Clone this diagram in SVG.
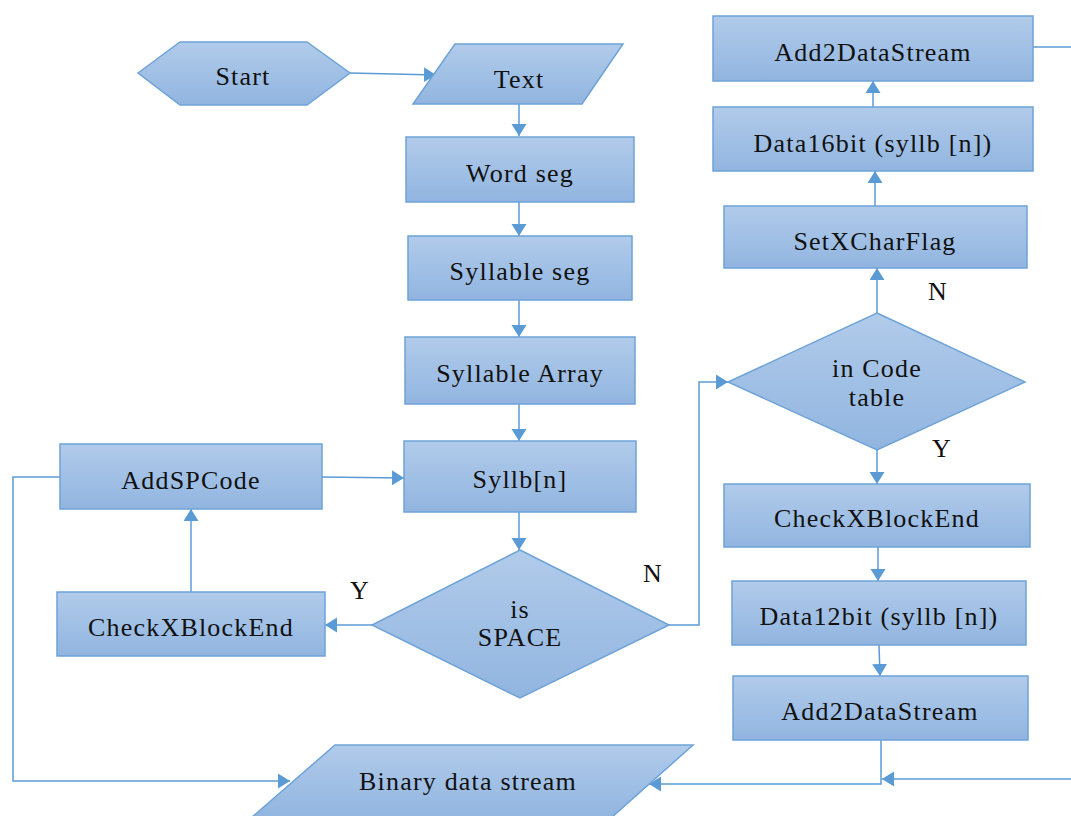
<svg xmlns="http://www.w3.org/2000/svg" width="1071" height="816" viewBox="0 0 1071 816">
<style>
.shape{fill:url(#g);stroke:#6ea3d8;stroke-width:1.5}
.t{font-family:"Liberation Serif","Times New Roman",serif;font-size:26px;letter-spacing:1.2px;fill:#111;text-anchor:middle}
.c{fill:none;stroke:#5b9bd5;stroke-width:1.5}
.a{marker-end:url(#ah)}
</style>
<defs>
<linearGradient id="g" x1="0" y1="0" x2="0" y2="1">
<stop offset="0" stop-color="#b1cbea"/>
<stop offset="1" stop-color="#91b5e0"/>
</linearGradient>
<marker id="ah" markerUnits="userSpaceOnUse" markerWidth="13" markerHeight="16" refX="12" refY="7.5" orient="auto">
<path d="M0,0 L12,7.5 L0,15 z" fill="#5b9bd5"/>
</marker>
</defs>
<rect width="1071" height="816" fill="#fff"/>
<g id="connectors">
<path class="c a" d="M350,73 L436,75"/>
<path class="c a" d="M519,104 L519,136"/>
<path class="c a" d="M519,202 L519,236"/>
<path class="c a" d="M519,300 L519,337"/>
<path class="c a" d="M519,404 L519,441"/>
<path class="c a" d="M519,512 L519,550"/>
<path class="c a" d="M372,625 L325,625"/>
<path class="c a" d="M191,592 L191,509"/>
<path class="c a" d="M322,477 L404,478"/>
<path class="c a" d="M60,477 L13,477 L13,781 L290,781"/>
<path class="c a" d="M669,625 L699,625 L699,382 L728,382"/>
<path class="c a" d="M877,313 L877,268"/>
<path class="c a" d="M875,206 L875,171"/>
<path class="c a" d="M873,107 L873,81"/>
<path class="c" d="M1033,47 L1071,47"/>
<path class="c a" d="M877,450 L877,484"/>
<path class="c a" d="M878,547 L878,581"/>
<path class="c a" d="M879,645 L880,676"/>
<path class="c a" d="M881,740 L881,784 L649,784"/>
<path class="c a" d="M1071,779 L882,779"/>
</g>
<g id="labels">
<text class="t" x="360" y="599">Y</text>
<text class="t" x="653" y="582">N</text>
<text class="t" x="938" y="300">N</text>
<text class="t" x="942" y="457">Y</text>
</g>
<g id="start"><polygon class="shape" points="138,73 180,42 307,42 350,73 307,105 180,105"/><text class="t" x="243" y="85">Start</text></g>
<g id="text"><polygon class="shape" points="455,44 623,44 582,104 413,104"/><text class="t" x="519" y="88">Text</text></g>
<g id="wordseg"><rect class="shape" x="406" y="137" width="228" height="65"/><text class="t" x="520" y="182">Word seg</text></g>
<g id="syllableseg"><rect class="shape" x="408" y="236" width="224" height="64"/><text class="t" x="520" y="280">Syllable seg</text></g>
<g id="syllablearray"><rect class="shape" x="405" y="337" width="230" height="67"/><text class="t" x="520" y="382">Syllable Array</text></g>
<g id="syllbn"><rect class="shape" x="404" y="441" width="232" height="71"/><text class="t" x="520" y="488">Syllb[n]</text></g>
<g id="isspace"><polygon class="shape" points="520,550 669,625 520,698 372,625"/><text class="t" x="520" y="618">is</text><text class="t" x="520" y="646">SPACE</text></g>
<g id="checkleft"><rect class="shape" x="57" y="592" width="268" height="64"/><text class="t" x="191" y="636">CheckXBlockEnd</text></g>
<g id="addspcode"><rect class="shape" x="60" y="444" width="262" height="65"/><text class="t" x="191" y="489">AddSPCode</text></g>
<g id="binary"><polygon class="shape" points="335,745 693,745 611,818 251,818"/><text class="t" x="468" y="790">Binary data stream</text></g>
<g id="add2top"><rect class="shape" x="713" y="16" width="320" height="65"/><text class="t" x="873" y="61">Add2DataStream</text></g>
<g id="data16"><rect class="shape" x="713" y="107" width="320" height="64"/><text class="t" x="873" y="152">Data16bit (syllb [n])</text></g>
<g id="setx"><rect class="shape" x="724" y="206" width="303" height="62"/><text class="t" x="875" y="250">SetXCharFlag</text></g>
<g id="incode"><polygon class="shape" points="877,313 1025,382 877,450 728,382"/><text class="t" x="877" y="377">in Code</text><text class="t" x="877" y="406">table</text></g>
<g id="checkright"><rect class="shape" x="724" y="484" width="306" height="63"/><text class="t" x="877" y="527">CheckXBlockEnd</text></g>
<g id="data12"><rect class="shape" x="732" y="581" width="294" height="64"/><text class="t" x="879" y="625">Data12bit (syllb [n])</text></g>
<g id="add2bottom"><rect class="shape" x="733" y="676" width="295" height="64"/><text class="t" x="880" y="720">Add2DataStream</text></g>
</svg>
